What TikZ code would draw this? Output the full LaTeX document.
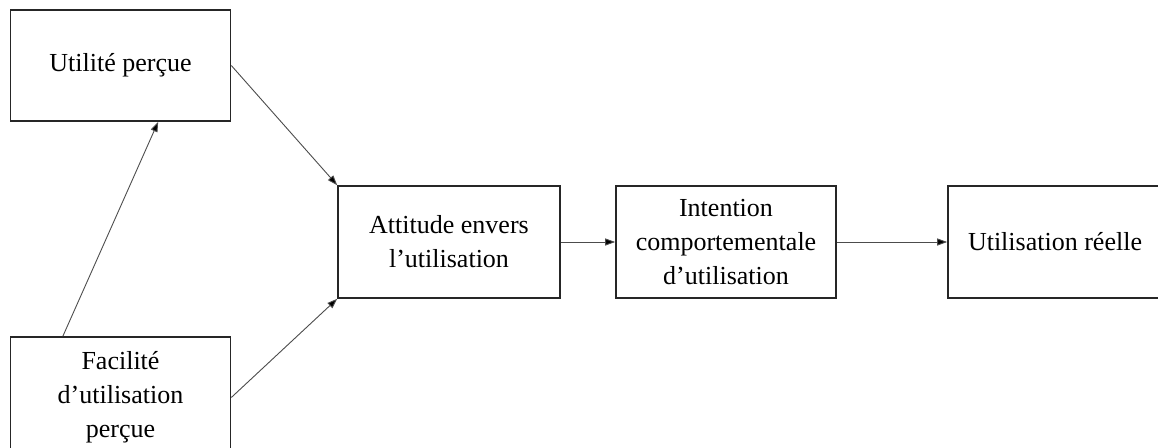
\documentclass[tikz,border=0pt]{standalone}
\usepackage{fontspec}
\setmainfont{Liberation Serif}
\usetikzlibrary{arrows.meta,calc}
\begin{document}
\begin{tikzpicture}[x=1pt,y=-1pt,
  box/.style={draw=black!85,line width=1.6pt,rectangle,align=center,inner sep=0pt,
    font=\fontsize{26}{34}\selectfont},
  conn/.style={draw=black!70,line width=0.9pt,-{Triangle[length=10pt,width=7pt,fill=black]}}]
\useasboundingbox[fill=white] (0,0) rectangle (1158,447);
\node[box,minimum width=220pt,minimum height=111pt] (u) at (120.5,65.5) {Utilité perçue};
\node[box,minimum width=220pt,minimum height=121pt] (f) at (120.5,397.5) {Facilité\\d’utilisation\\perçue};
\node[box,minimum width=222pt,minimum height=112pt] (a) at (449,242) {Attitude envers\\l’utilisation};
\node[box,minimum width=220pt,minimum height=112pt] (i) at (726,242) {Intention\\comportementale\\d’utilisation};
\node[box,minimum width=214pt,minimum height=112pt] (r) at (1055,242) {Utilisation réelle};
\draw[conn] (u.east) -- (a.north west);
\draw[conn] (f.east) -- (a.south west);
\draw[conn] ($(f.north west)!0.24!(f.north east)$) -- ($(u.south west)!0.67!(u.south east)$);
\draw[conn] (a.east) -- (i.west);
\draw[conn] (i.east) -- (r.west);
\end{tikzpicture}
\end{document}
